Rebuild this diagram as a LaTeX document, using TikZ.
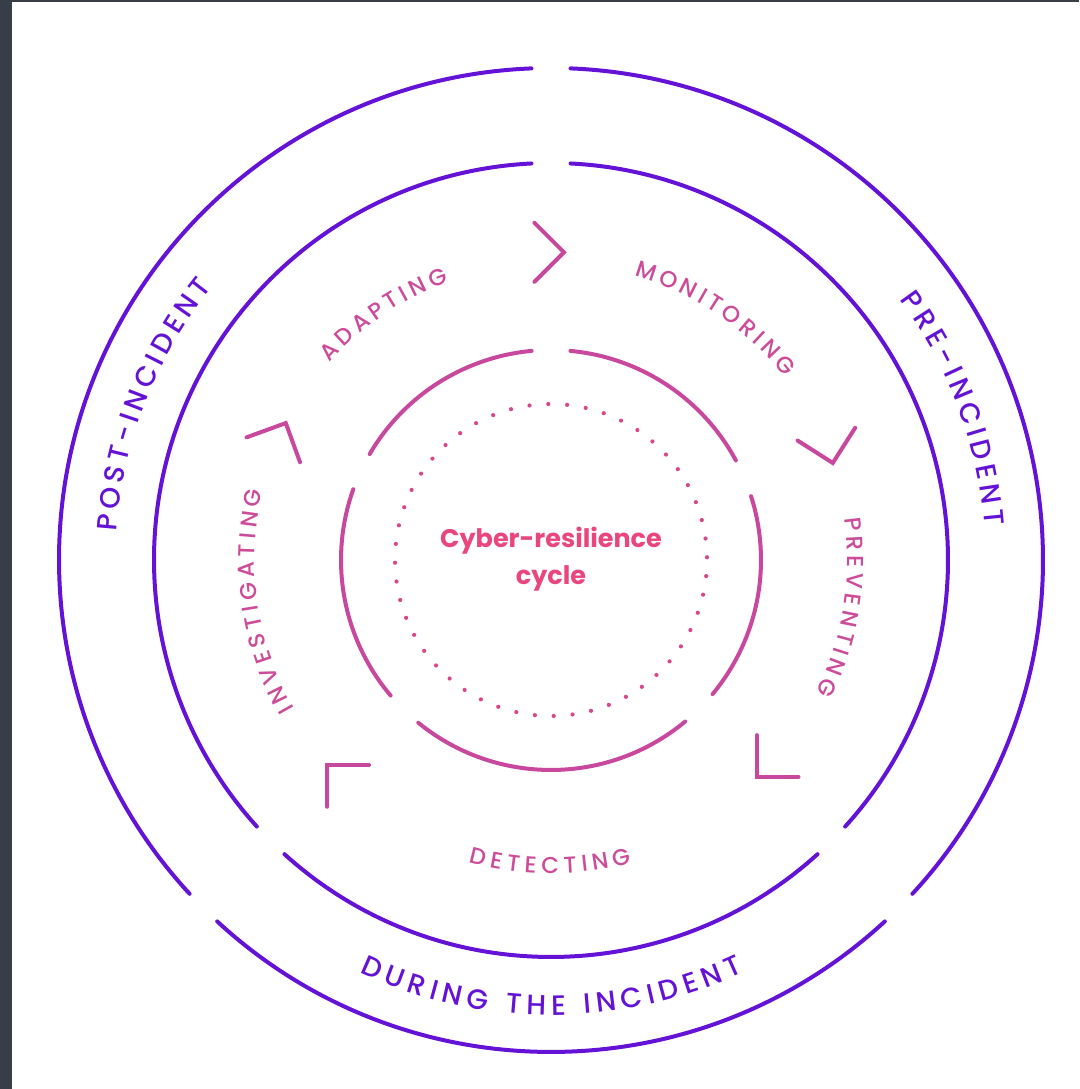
\documentclass[tikz,border=0pt]{standalone}
\usepackage{fontspec}
\setmainfont{Poppins}
\newfontfamily\lblfont{Poppins}[UprightFont={* Medium}]
\usetikzlibrary{decorations.text}
\definecolor{purp}{HTML}{6412D6}
\definecolor{pinkl}{HTML}{C8489E}
\definecolor{lbl}{HTML}{CC4C9A}
\definecolor{ctr}{HTML}{E8467C}
\definecolor{dotc}{HTML}{D9468A}
\definecolor{framec}{HTML}{373E47}
\begin{document}
\begin{tikzpicture}[x=1pt,y=1pt,
  purparc/.style={draw=purp, line width=4pt, line cap=round},
  pinkarc/.style={draw=pinkl, line width=4pt, line cap=round},
  chev/.style={draw=pinkl, line width=4pt, line cap=round, line join=miter},
  ctrtext/.style={font=\fontsize{25.5pt}{30pt}\selectfont\bfseries, text=ctr, inner sep=0pt, anchor=base},
  inlbl/.style={decorate, decoration={text along path, text align=fit to path, text color=lbl,
      text={|\lblfont\fontsize{23pt}{23pt}\selectfont|#1}}},
  outlbl/.style={decorate, decoration={text along path, text align=fit to path, text color=purp,
      text={|\lblfont\fontsize{28pt}{28pt}\selectfont|#1}}}
]
\fill[white] (0,0) rectangle (1079,1089);
\fill[framec] (0,0) rectangle (12,1089);
\fill[framec] (0,1087) rectangle (1079,1089);
\useasboundingbox (0,0) rectangle (1079,1089);
\begin{scope}[shift={(551,529)}]
\coordinate (c) at (0,0);
% outer purple ring
\foreach \a/\b in {92.27/222.73, 227.27/312.73, 317.27/447.73}
  \draw[purparc] (\a:492) arc[start angle=\a, end angle=\b, radius=492pt];
% middle purple ring
\foreach \a/\b in {92.82/222.18, 227.82/312.18, 317.82/447.18}
  \draw[purparc] (\a:397) arc[start angle=\a, end angle=\b, radius=397pt];
% inner pink ring (gaps at 90, 155, 225.5, 315, 23)
\foreach \a/\b in {28.3/84.7, 95.3/149.7, 160.3/220.2, 230.8/309.7, 320.3/377.7}
  \draw[pinkarc] (\a:210) arc[start angle=\a, end angle=\b, radius=210pt];
% dotted ring
\foreach \i in {0,...,51}
  \fill[dotc] ({91+\i*6.923}:156) circle[radius=2.1pt];
% chevrons: position angle / radius / rotation
\foreach \p/\r/\q in {87.6/308/90, 19/298/12.5, -46.5/299/-45, 222.5/303.5/225, 152.7/298.5/155}
  \draw[chev, shift={(\p:\r)}, rotate=\q] (-29.5,29.5) -- (0,0) -- (29.5,29.5);
% center text
\node[ctrtext] (title1) at (0,12.7) {Cyber-resilience};
\node[ctrtext] (title2) at (0,-25) {cycle};
% inner labels
\path[inlbl=MONITORING] (73.7:296.5) arc[start angle=73.7, end angle=38, radius=296.5pt];
\path[inlbl=ADAPTING] (138.2:296.5) arc[start angle=138.2, end angle=110.1, radius=296.5pt];
\path[inlbl=PREVENTING] (8:296.5) arc[start angle=8, end angle=-26.6, radius=296.5pt];
\path[inlbl=INVESTIGATING] (210:296.5) arc[start angle=210, end angle=166.5, radius=296.5pt];
\path[inlbl=DETECTING] (254.7:313.5) arc[start angle=254.7, end angle=285, radius=313.5pt];
% outer labels
\path[outlbl=PRE-INCIDENT] (36.7:435) arc[start angle=36.7, end angle=4.5, radius=435pt];
\path[outlbl=POST-INCIDENT] (176.2:435) arc[start angle=176.2, end angle=141.2, radius=435pt];
\path[outlbl=DURING THE INCIDENT] (245.1:455) arc[start angle=245.1, end angle=295, radius=455pt];
\end{scope}
\end{tikzpicture}
\end{document}
